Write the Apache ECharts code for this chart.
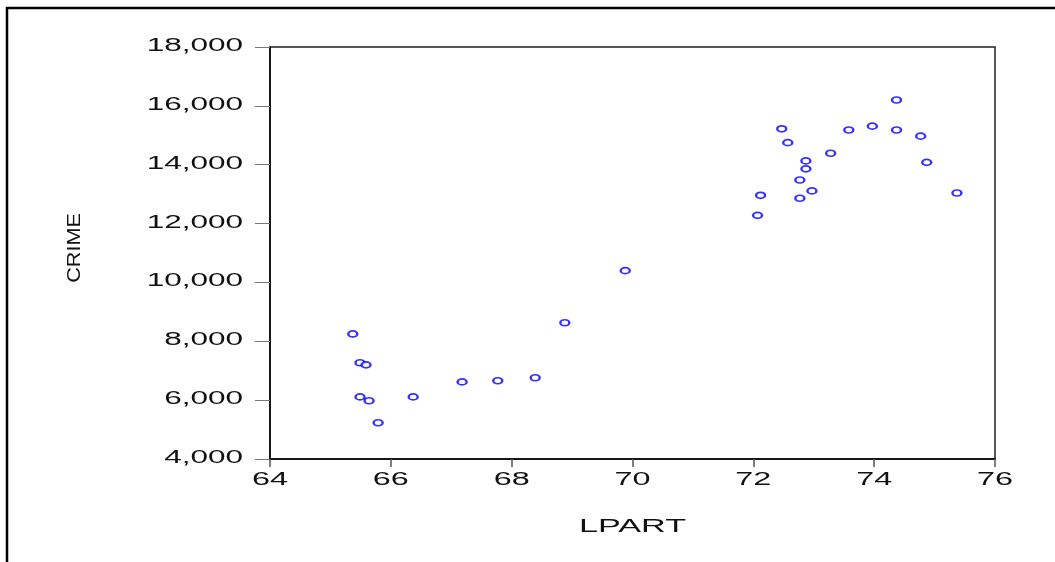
<!DOCTYPE html>
<html>
<head>
<meta charset="utf-8">
<script src="https://cdn.jsdelivr.net/npm/echarts@6/dist/echarts.min.js"></script>
<style>
  html, body { margin: 0; padding: 0; background: #fff; }
  #chart { width: 1055px; height: 562px; }
</style>
</head>
<body>
<div id="chart"></div>
<script>
// LPART vs CRIME
var lpart = [65.37, 65.49, 65.59, 65.49, 65.64, 65.79, 66.37, 67.18, 67.77, 68.39, 68.88, 69.88,
  72.47, 72.57, 72.87, 72.87, 72.77, 72.97, 72.77, 72.12, 72.07, 73.28, 73.58, 73.97, 74.37, 74.37, 74.77, 74.87, 75.37];
var crime = [8250, 7270, 7200, 6110, 5980, 5230, 6110, 6620, 6660, 6760, 8630, 10400,
  15220, 14750, 14130, 13860, 13480, 13110, 12860, 12960, 12280, 14390, 15180, 15310, 16200, 15180, 14970, 14080, 13040];
var xTicks = [64, 66, 68, 70, 72, 74, 76];
var yTicks = [4000, 6000, 8000, 10000, 12000, 14000, 16000, 18000];
var xName = "LPART";
var yName = "CRIME";

var points = [];
for (var i = 0; i < lpart.length; i++) {
  points.push([lpart[i], crime[i]]);
}

var chart = echarts.init(document.getElementById("chart"));
chart.setOption({
  animation: false,
  backgroundColor: "#fff",
  grid: {
    left: 270,
    top: 47,
    width: 725,
    height: 412,
    show: true,
    borderColor: "#222",
    borderWidth: 1.5,
  },
  xAxis: {
    type: "value",
    min: xTicks[0],
    max: xTicks[xTicks.length - 1],
    interval: 2,
    axisLine: { lineStyle: { color: "#000", width: 1.5 } },
    axisTick: { show: true, inside: false, length: 8, lineStyle: { color: "#555", width: 1.5 } },
    axisLabel: { show: false },
    splitLine: { show: false },
  },
  yAxis: {
    type: "value",
    min: yTicks[0],
    max: yTicks[yTicks.length - 1],
    interval: 2000,
    axisLine: { show: true, lineStyle: { color: "#000", width: 1.5 } },
    axisTick: { show: true, inside: false, length: 15, lineStyle: { color: "#777", width: 1 } },
    axisLabel: { show: false },
    splitLine: { show: false },
  },
  series: [
    {
      type: "scatter",
      data: points,
      symbol: "emptyCircle",
      symbolSize: [9, 6],
      itemStyle: { color: "#0000ff", borderColor: "#0000ff", borderWidth: 1.4 },
    },
  ],
});

// 拉伸的文字（原图的字体是横向拉宽的）
var font = '18px "Liberation Sans", Arial, sans-serif';
var texts = [];
yTicks.forEach(function (v) {
  var p = chart.convertToPixel({ gridIndex: 0 }, [xTicks[0], v]);
  texts.push({
    type: "text", x: p[0] - 27, y: p[1] - 1, scaleX: 1.75,
    style: { text: v.toLocaleString("en-US"), font: font, fill: "#111",
      align: "right", verticalAlign: "middle", textAlign: "right", textVerticalAlign: "middle" },
  });
});
xTicks.forEach(function (v) {
  var p = chart.convertToPixel({ gridIndex: 0 }, [v, yTicks[0]]);
  texts.push({
    type: "text", x: p[0], y: p[1] + 21, scaleX: 1.8,
    style: { text: String(v), font: font, fill: "#111",
      align: "center", verticalAlign: "middle", textAlign: "center", textVerticalAlign: "middle" },
  });
});
var c0 = chart.convertToPixel({ gridIndex: 0 }, [(xTicks[0] + xTicks[xTicks.length - 1]) / 2, yTicks[0]]);
texts.push({
  type: "text", x: c0[0], y: c0[1] + 68, scaleX: 1.9,
  style: { text: xName, font: font, fill: "#111",
    align: "center", verticalAlign: "middle", textAlign: "center", textVerticalAlign: "middle" },
});
texts.push({
  type: "text", x: 75, y: 248, rotation: Math.PI / 2, scaleX: 1.2,
  style: { text: yName, font: font, fill: "#111",
    align: "center", verticalAlign: "middle", textAlign: "center", textVerticalAlign: "middle" },
});
// 外框
texts.push({
  type: "rect", shape: { x: 7, y: 8, width: 1200, height: 700 },
  style: { fill: "none", stroke: "#000", lineWidth: 2.5 },
});
chart.setOption({ graphic: texts });
</script>
</body>
</html>
